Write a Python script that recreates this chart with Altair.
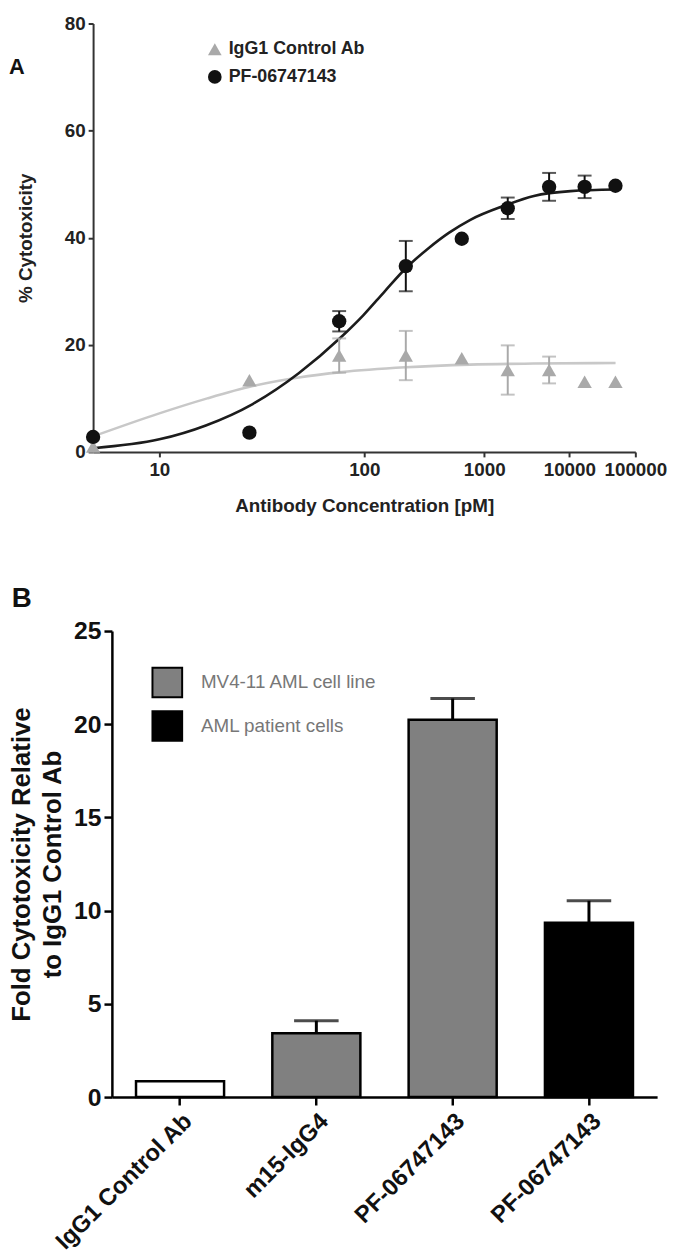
import math
import altair as alt
import pandas as pd

FONT = "Liberation Sans"

# ---------------- Panel A data ----------------
a_series = ["IgG1 Control Ab", "PF-06747143"]
a_conc = [6.3, 22.7, 68.7, 200, 603, 1770, 5440, 16300, 47300]
igg_mean = [1.0, 13.4, 18.0, 18.0, 17.5, 15.3, 15.3, 13.1, 13.1]
igg_err = [0, 0, 3.2, 4.6, 0, 4.6, 2.5, 0, 0]
pf_mean = [2.8, 3.6, 24.4, 34.7, 39.8, 45.5, 49.5, 49.5, 49.7]
pf_err = [0, 0, 1.9, 4.7, 0, 2.0, 2.6, 2.1, 0]

igg_fit_conc = [6.3, 10, 15, 23.5, 40, 71, 200, 720, 3500, 47500]
igg_fit_val = [2.9, 7.2, 10.0, 12.3, 13.9, 14.9, 15.8, 16.3, 16.5, 16.6]
pf_fit_conc = [6.3, 10, 14.8, 23.5, 40, 71, 99, 139, 200, 300, 458, 721, 1637, 3532, 10400, 47500]
pf_fit_val = [0.7, 2.35, 4.95, 8.95, 14.7, 21.5, 25.6, 30.0, 34.3, 37.9, 40.9, 43.3, 46.0, 47.8, 48.7, 49.0]

x_tick_values = [10, 100, 1000, 10000, 100000]
a_y_ticks = [0, 20, 40, 60, 80]

# ---------------- Panel B data ----------------
b_names = ["IgG1 Control Ab", "m15-IgG4", "PF-06747143", "PF-06747143"]
b_cells = ["control", "MV4-11 AML cell line", "MV4-11 AML cell line", "AML patient cells"]
b_vals = [0.85, 3.43, 20.24, 9.35]
b_errs = [0, 0.67, 1.14, 1.18]
b_legend = ["MV4-11 AML cell line", "AML patient cells"]
b_y_ticks = [0, 5, 10, 15, 20, 25]

# ---------------- build tables ----------------
pts = pd.DataFrame({
    "conc": a_conc + a_conc,
    "series": [a_series[0]] * len(a_conc) + [a_series[1]] * len(a_conc),
    "mean": igg_mean + pf_mean,
    "err": igg_err + pf_err,
})
fits = pd.DataFrame({
    "conc": igg_fit_conc + pf_fit_conc,
    "series": [a_series[0]] * len(igg_fit_conc) + [a_series[1]] * len(pf_fit_conc),
    "val": igg_fit_val + pf_fit_val,
})
b_keys = [f"{i}|{n}" for i, n in enumerate(b_names)]
bdf = pd.DataFrame({"key": b_keys, "name": b_names, "cells": b_cells,
                    "val": b_vals, "err": b_errs})


def loglog(v):
    return math.log10(math.log10(v))


U = "log(log(datum.conc) / LN10) / LN10"

A_TXT = "#222222"
A_AX = "#333333"

xA = alt.X(
    "u:Q",
    scale=alt.Scale(domain=[loglog(a_conc[0]), loglog(x_tick_values[-1])], nice=False, zero=False),
    axis=alt.Axis(
        values=[loglog(t) for t in x_tick_values],
        labelExpr="format(pow(10, pow(10, datum.value)), 'd')",
        title="Antibody Concentration [pM]",
        grid=False, domainColor=A_AX, domainWidth=2, tickColor=A_AX, tickWidth=2, tickSize=5,
        labelFont=FONT, labelFontSize=19, labelFontWeight="bold", labelColor=A_TXT, labelPadding=4,
        titleFont=FONT, titleFontSize=19, titleFontWeight="bold", titleColor=A_TXT, titlePadding=17,
        labelFlush=False,
    ),
)
yA_axis = alt.Axis(
    values=a_y_ticks, title="% Cytotoxicity", grid=False,
    domainColor=A_AX, domainWidth=2, tickColor=A_AX, tickWidth=2, tickSize=5,
    labelFont=FONT, labelFontSize=19, labelFontWeight="bold", labelColor=A_TXT, labelPadding=3,
    titleFont=FONT, titleFontSize=19, titleFontWeight="bold", titleColor=A_TXT, titlePadding=29,
)
yA_scale = alt.Scale(domain=[0, 80], nice=False, zero=True)


def yA(field):
    return alt.Y(field, scale=yA_scale, axis=yA_axis)


styles = {
    a_series[0]: ("#c8c8c8", "#a9a9a9"),
    a_series[1]: ("#1c1c1c", "#111111"),
}

layersA = []
for s in a_series:
    line_col, pt_col = styles[s]
    layersA.append(
        alt.Chart(fits).transform_filter(alt.datum.series == s).transform_calculate(u=U)
        .mark_line(interpolate="monotone", color=line_col, strokeWidth=2.6)
        .encode(x=xA, y=yA("val:Q"))
    )
for s in a_series:
    line_col, pt_col = styles[s]
    eb = (alt.Chart(pts)
          .transform_filter((alt.datum.series == s) & (alt.datum.err > 0))
          .transform_calculate(u=U, lo="datum.mean - datum.err", hi="datum.mean + datum.err"))
    layersA.append(eb.mark_rule(color=pt_col, strokeWidth=2).encode(x=xA, y=yA("lo:Q"), y2="hi:Q"))
    layersA.append(eb.mark_tick(color=pt_col, orient="horizontal", size=14, thickness=2)
                   .encode(x=xA, y=yA("hi:Q")))
    layersA.append(eb.mark_tick(color=pt_col, orient="horizontal", size=14, thickness=2)
                   .encode(x=xA, y=yA("lo:Q")))

legA = alt.Legend(
    title=None, orient="none", legendX=114, legendY=17, padding=0,
    labelFont=FONT, labelFontSize=18, labelFontWeight="bold", labelColor=A_TXT,
    labelOffset=5, rowPadding=10, symbolSize=190, symbolStrokeWidth=0,
)
layersA.append(
    alt.Chart(pts).transform_calculate(u=U)
    .mark_point(filled=True, size=210, opacity=1)
    .encode(
        x=xA, y=yA("mean:Q"),
        color=alt.Color("series:N", scale=alt.Scale(domain=a_series, range=[styles[a_series[0]][1], styles[a_series[1]][1]]), legend=legA),
        shape=alt.Shape("series:N", scale=alt.Scale(domain=a_series, range=["triangle-up", "circle"]), legend=legA),
    )
)
layersA.append(
    alt.Chart(pd.DataFrame({"t": ["A"]}))
    .mark_text(font=FONT, fontSize=22, fontWeight="bold", color="#111111", align="center", baseline="middle")
    .encode(x=alt.value(-77), y=alt.value(44), text="t:N")
)
panelA = alt.layer(*layersA).properties(width=548, height=433)

# ---------------- Panel B ----------------
xB = alt.X(
    "key:N", sort=b_keys,
    scale=alt.Scale(range=[19, 570], paddingInner=0.354, paddingOuter=0.177),
    axis=alt.Axis(
        title=None, labelExpr="split(datum.label, '|')[1]", labelAngle=-45, labelLimit=400,
        domainColor="black", domainWidth=2.5, tickColor="black", tickWidth=2.5, tickSize=8,
        labelFont=FONT, labelFontSize=24, labelFontWeight="bold", labelColor="#111111", labelPadding=4,
    ),
)
yB_axis = alt.Axis(
    values=b_y_ticks, offset=-19, grid=False,
    title=["Fold Cytotoxicity Relative", "to IgG1 Control Ab"],
    domainColor="black", domainWidth=2.5, tickColor="black", tickWidth=2.5, tickSize=8,
    labelFont=FONT, labelFontSize=25, labelFontWeight="bold", labelColor="#111111", labelPadding=3,
    titleFont=FONT, titleFontSize=26, titleFontWeight="bold", titleColor="#111111",
    titleLineHeight=31, titlePadding=8,
)
yB_scale = alt.Scale(domain=[0, 25], nice=False, zero=True)


def yB(field):
    return alt.Y(field, scale=yB_scale, axis=yB_axis)


# legends of a concatenated chart are placed from the first panel's origin
legB = alt.Legend(
    values=b_legend, title=None, orient="none", legendX=59, legendY=650, padding=0,
    symbolType="square", symbolSize=900, symbolStrokeColor="black", symbolStrokeWidth=2,
    symbolOpacity=1, labelFont=FONT, labelFontSize=19, labelColor="#777777", labelLimit=400,
    labelOffset=18, rowPadding=6,
)
bars = alt.Chart(bdf).mark_bar(stroke="black", strokeWidth=2.5).encode(
    x=xB, y=yB("val:Q"),
    fill=alt.Fill("cells:N", scale=alt.Scale(domain=["control"] + b_legend, range=["white", "#808080", "black"]), legend=legB),
)
ebB = alt.Chart(bdf).transform_filter(alt.datum.err > 0).transform_calculate(hi="datum.val + datum.err")
ruleB = ebB.mark_rule(color="black", strokeWidth=3).encode(x=xB, y=yB("val:Q"), y2="hi:Q")
capB = ebB.mark_tick(color="black", orient="horizontal", size=45, thickness=3).encode(x=xB, y=yB("hi:Q"))
letterB = (alt.Chart(pd.DataFrame({"t": ["B"]}))
           .mark_text(font=FONT, fontSize=28, fontWeight="bold", color="#111111", align="center", baseline="middle")
           .encode(x=alt.value(-72), y=alt.value(-32), text="t:N"))
panelB = alt.layer(ruleB, capB, bars, letterB).properties(width=570, height=471)

chart = (
    alt.vconcat(panelA, panelB, spacing=71)
    .properties(padding={"left": 1, "top": 0, "right": 0, "bottom": 0}, background="white")
    .configure_view(stroke=None)
)

chart.save("out.html", embed_options={"renderer": "svg", "actions": False})
